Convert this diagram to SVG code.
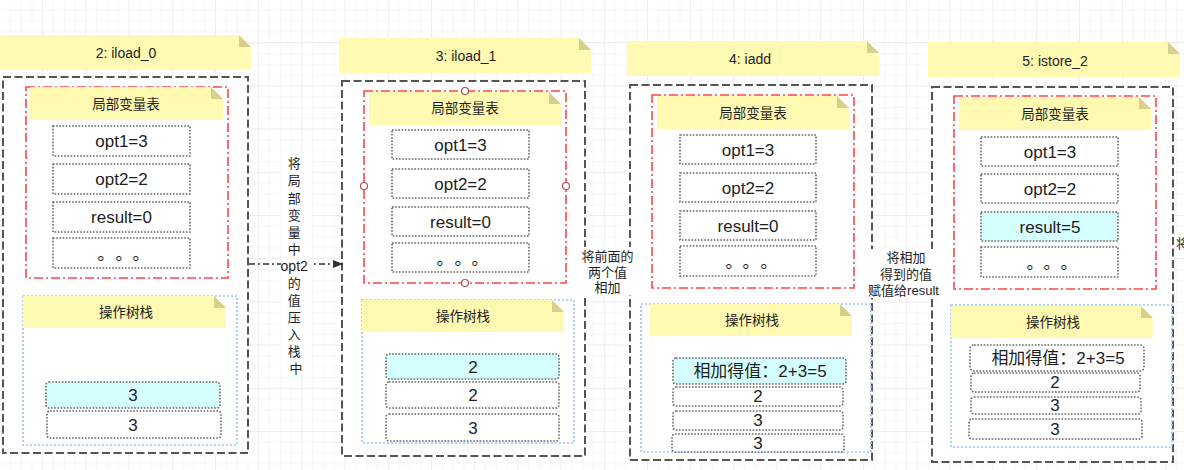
<svg xmlns="http://www.w3.org/2000/svg" width="1184" height="470" viewBox="0 0 1184 470">
<style>
text{font-family:"Liberation Sans","Noto Sans CJK SC",sans-serif;fill:#1e1e1e;text-anchor:middle;dominant-baseline:central}
.t14{font-size:14px}
.t13{font-size:13.5px}
.t17{font-size:17px}
.lbl{font-size:13px}
.dots{font-family:"Noto Sans CJK SC",sans-serif;font-size:17px}
.note{fill:#fff9b2;stroke:none}
.fold{fill:#d6d08c;stroke:none}
.outer{fill:#fff;stroke:#555;stroke-width:2;stroke-dasharray:8 3.5}
.red{fill:#fff;stroke:#ff4545;stroke-width:1.6;stroke-dasharray:9 3 2 3}
.blue{fill:#fff;stroke:#99c4ff;stroke-width:1.6;stroke-dasharray:2 2}
.cell{fill:#fff;stroke:#666;stroke-width:1.6;stroke-dasharray:1.6 1.6}
.cyan{fill:#d5fefe}
.handle{fill:#fff;stroke:#b05050;stroke-width:1.2}
.conn{fill:none;stroke:#333;stroke-width:1.5;stroke-dasharray:6 3 2 3}
.bg{fill:#fff}
</style>
<defs>
<pattern id="gmin" width="10.8" height="10.8" patternUnits="userSpaceOnUse"><path d="M10.8 0V10.8H0" fill="none" stroke="#f1f1f1" stroke-width="1"/></pattern>
<pattern id="gmaj" width="43.2" height="43.2" patternUnits="userSpaceOnUse"><path d="M43.2 0V43.2H0" fill="none" stroke="#e3e3e3" stroke-width="1"/></pattern>
<marker id="arr" markerWidth="10" markerHeight="8" refX="10" refY="4" orient="auto" markerUnits="userSpaceOnUse"><path d="M0 0L10 4L0 8Z" fill="#333"/></marker>
</defs>
<rect width="1184" height="470" fill="#fff"/>
<rect width="1184" height="470" fill="url(#gmin)"/>
<rect width="1184" height="470" fill="url(#gmaj)"/>

<!-- Column 1 -->
<g id="col1">
  <path class="note" d="M0 35H239L251 47V70H0Z"/><path class="fold" d="M239 35V47H251Z"/>
  <text class="t14" x="126" y="53">2: iload_0</text>
  <rect class="outer" x="3" y="77" width="245" height="376"/>
  <rect class="red" x="26" y="87" width="202" height="191"/>
  <path class="note" d="M30 87H211L223 99V120H30Z"/><path class="fold" d="M211 87V99H223Z"/>
  <text class="t13" x="126" y="104">局部变量表</text>
  <rect class="cell" x="53" y="126" width="137" height="30"/><text class="t17" x="121.5" y="141">opt1=3</text>
  <rect class="cell" x="53" y="164" width="137" height="30"/><text class="t17" x="121.5" y="179">opt2=2</text>
  <rect class="cell" x="53" y="202" width="137" height="30"/><text class="t17" x="121.5" y="217">result=0</text>
  <rect class="cell" x="53" y="238" width="137" height="30"/><text class="dots" x="106 124 141" y="252">。。。</text>
  <rect class="blue" x="23" y="296" width="214" height="149"/>
  <path class="note" d="M23 296H214L226 308V328H23Z"/><path class="fold" d="M214 296V308H226Z"/>
  <text class="t13" x="126" y="312">操作树栈</text>
  <rect class="cell cyan" x="46" y="382" width="174" height="26" rx="3"/><text class="t17" x="133" y="395">3</text>
  <rect class="cell" x="47" y="411" width="174" height="27" rx="3"/><text class="t17" x="133" y="425">3</text>
</g>

<!-- Column 2 -->
<g id="col2">
  <path class="note" d="M339 38H579L591 50V73H339Z"/><path class="fold" d="M579 38V50H591Z"/>
  <text class="t14" x="466" y="56">3: iload_1</text>
  <rect class="outer" x="342" y="81" width="243" height="375"/>
  <rect class="red" x="364" y="91" width="202" height="192"/>
  <path class="note" d="M369 92H549L561 104V125H369Z"/><path class="fold" d="M549 92V104H561Z"/>
  <text class="t13" x="465" y="108">局部变量表</text>
  <rect class="cell" x="392" y="130" width="137" height="29"/><text class="t17" x="460.5" y="145">opt1=3</text>
  <rect class="cell" x="392" y="169" width="137" height="29"/><text class="t17" x="460.5" y="184">opt2=2</text>
  <rect class="cell" x="392" y="207" width="137" height="29"/><text class="t17" x="460.5" y="222">result=0</text>
  <rect class="cell" x="392" y="243" width="137" height="29"/><text class="dots" x="445 463 480" y="257">。。。</text>
  <circle class="handle" cx="465" cy="91" r="3.5"/>
  <circle class="handle" cx="364" cy="186" r="3.5"/>
  <circle class="handle" cx="566" cy="186" r="3.5"/>
  <circle class="handle" cx="465" cy="283" r="3.5"/>
  <rect class="blue" x="362" y="300" width="212" height="143"/>
  <path class="note" d="M362 300H552L564 312V332H362Z"/><path class="fold" d="M552 300V312H564Z"/>
  <text class="t13" x="463" y="316">操作树栈</text>
  <rect class="cell cyan" x="386" y="354" width="173" height="25" rx="3"/><text class="t17" x="473" y="367">2</text>
  <rect class="cell" x="386" y="382" width="173" height="26" rx="3"/><text class="t17" x="473" y="395">2</text>
  <rect class="cell" x="386" y="414" width="173" height="27" rx="3"/><text class="t17" x="473" y="428">3</text>
</g>

<!-- Column 3 -->
<g id="col3">
  <path class="note" d="M627 41H867L879 53V76H627Z"/><path class="fold" d="M867 41V53H879Z"/>
  <text class="t14" x="750" y="59">4: iadd</text>
  <rect class="outer" x="630" y="85" width="242" height="375"/>
  <rect class="red" x="652" y="95" width="202" height="193"/>
  <path class="note" d="M657 96H837L849 108V129H657Z"/><path class="fold" d="M837 96V108H849Z"/>
  <text class="t13" x="753" y="113">局部变量表</text>
  <rect class="cell" x="680" y="135" width="136" height="29"/><text class="t17" x="748" y="150">opt1=3</text>
  <rect class="cell" x="680" y="173" width="136" height="29"/><text class="t17" x="748" y="188">opt2=2</text>
  <rect class="cell" x="680" y="211" width="136" height="29"/><text class="t17" x="748" y="226">result=0</text>
  <rect class="cell" x="680" y="246" width="136" height="30"/><text class="dots" x="734 751 769" y="260">。。。</text>
  <rect class="blue" x="641" y="304" width="230" height="148"/>
  <path class="note" d="M650 304H840L852 316V336H650Z"/><path class="fold" d="M840 304V316H852Z"/>
  <text class="t13" x="752" y="320">操作树栈</text>
  <rect class="cell cyan" x="673" y="358" width="173" height="26" rx="3"/><text class="t17" x="760" y="371">相加得值：2+3=5</text>
  <rect class="cell" x="673" y="387" width="170" height="19" rx="3"/><text class="t17" x="758" y="396">2</text>
  <rect class="cell" x="673" y="411" width="170" height="19" rx="3"/><text class="t17" x="758" y="420">3</text>
  <rect class="cell" x="672" y="434" width="172" height="18" rx="3"/><text class="t17" x="758" y="443">3</text>
</g>

<!-- Column 4 -->
<g id="col4">
  <path class="note" d="M928 42H1168L1180 54V77H928Z"/><path class="fold" d="M1168 42V54H1180Z"/>
  <text class="t14" x="1055" y="61">5: istore_2</text>
  <rect class="outer" x="932" y="87" width="241" height="375"/>
  <rect class="red" x="954" y="96" width="202" height="193"/>
  <path class="note" d="M959 97H1139L1151 109V130H959Z"/><path class="fold" d="M1139 97V109H1151Z"/>
  <text class="t13" x="1055" y="114">局部变量表</text>
  <rect class="cell" x="981" y="137" width="137" height="29"/><text class="t17" x="1050" y="152">opt1=3</text>
  <rect class="cell" x="981" y="174" width="137" height="29"/><text class="t17" x="1050" y="189">opt2=2</text>
  <rect class="cell cyan" x="981" y="212" width="137" height="29"/><text class="t17" x="1050" y="227">result=5</text>
  <rect class="cell" x="981" y="247" width="137" height="30"/><text class="dots" x="1035 1052 1069" y="261">。。。</text>
  <rect class="blue" x="951" y="305" width="221" height="142"/>
  <path class="note" d="M951 306H1141L1153 318V338H951Z"/><path class="fold" d="M1141 306V318H1153Z"/>
  <text class="t13" x="1053" y="322">操作树栈</text>
  <rect class="cell" x="970" y="345" width="174" height="26" rx="4"/><text class="t17" x="1058" y="358">相加得值：2+3=5</text>
  <rect class="cell" x="971" y="373" width="169" height="19" rx="3"/><text class="t17" x="1055" y="382">2</text>
  <rect class="cell" x="971" y="397" width="170" height="17" rx="3"/><text class="t17" x="1055" y="405">3</text>
  <rect class="cell" x="969" y="419" width="173" height="20" rx="3"/><text class="t17" x="1055" y="429">3</text>
</g>

<!-- Connectors and edge labels -->
<g id="connectors">
  <path class="conn" d="M249 264H343" marker-end="url(#arr)"/>
  <rect class="bg" x="281" y="153" width="30" height="222"/>
  <text class="lbl">
    <tspan x="296" y="163">将</tspan>
    <tspan x="296" y="180">局</tspan>
    <tspan x="296" y="197.5">部</tspan>
    <tspan x="296" y="214.5">变</tspan>
    <tspan x="296" y="231.5">量</tspan>
    <tspan x="296" y="248.5">中</tspan>
    <tspan x="296" y="265.5" style="font-size:14px">opt2</tspan>
    <tspan x="296" y="282.5">的</tspan>
    <tspan x="296" y="299.5">值</tspan>
    <tspan x="296" y="316.5">压</tspan>
    <tspan x="296" y="333.5">入</tspan>
    <tspan x="296" y="350.5">栈</tspan>
    <tspan x="296" y="367.5">中</tspan>
  </text>
  <rect class="bg" x="582" y="247" width="51" height="48"/>
  <text class="lbl"><tspan x="607.5" y="255.5">将前面的</tspan><tspan x="607.5" y="271.5">两个值</tspan><tspan x="607.5" y="287">相加</tspan></text>
  <rect class="bg" x="866" y="249" width="74" height="49"/>
  <text class="lbl"><tspan x="906" y="257">将相加</tspan><tspan x="906" y="273.5">得到的值</tspan><tspan x="903.5" y="290">赋值给result</tspan></text>
  <text class="lbl" x="1176" y="243" style="text-anchor:start">将</text>
</g>
</svg>
